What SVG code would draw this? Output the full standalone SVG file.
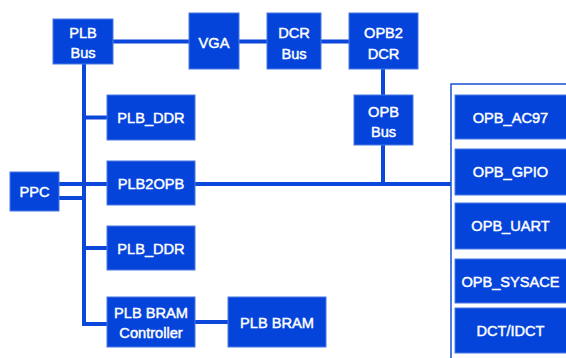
<svg xmlns="http://www.w3.org/2000/svg" width="566" height="358" viewBox="0 0 566 358">
<style>
.box{fill:#0444db;stroke:#4a78e2;stroke-width:1}
.t{fill:#fff;stroke:#fff;stroke-width:0.45;font-family:"Liberation Sans",Arial,sans-serif;font-size:14.6px;text-anchor:middle}
.c{fill:none;stroke:#0a47da;stroke-width:4}
</style>
<rect width="566" height="358" fill="#fff"/>
<g id="connectors">
<path class="c" d="M113,41.5 H189 M239,41.5 H267 M321,41.5 H349 M383,69 V95 M383,145 V184 M195,184 H451"/>
<path class="c" d="M84,64 V324 H107 M84,117.5 H107 M59,184 H107 M59,198 H84 M84,248 H107 M195,322 H228"/>
</g>
<g id="opb-container"><rect x="451" y="84" width="130" height="290" fill="none" stroke="#1a50d6" stroke-width="1.5"/></g>
<g id="plb-bus"><rect class="box" x="53" y="19" width="60" height="45"/><text class="t" x="83" y="38">PLB</text><text class="t" x="83" y="58">Bus</text></g>
<g id="vga"><rect class="box" x="189" y="13" width="50" height="56"/><text class="t" x="214" y="48">VGA</text></g>
<g id="dcr-bus"><rect class="box" x="267" y="13" width="54" height="56"/><text class="t" x="294" y="38">DCR</text><text class="t" x="294" y="59">Bus</text></g>
<g id="opb2dcr"><rect class="box" x="349" y="13" width="69" height="56"/><text class="t" x="383.5" y="38">OPB2</text><text class="t" x="383.5" y="59">DCR</text></g>
<g id="opb-bus"><rect class="box" x="354" y="95" width="59" height="50"/><text class="t" x="383.5" y="117">OPB</text><text class="t" x="383.5" y="137">Bus</text></g>
<g id="plb-ddr-1"><rect class="box" x="107" y="95" width="88" height="45"/><text class="t" x="151" y="123">PLB_DDR</text></g>
<g id="plb2opb"><rect class="box" x="107" y="161" width="88" height="44"/><text class="t" x="151" y="189">PLB2OPB</text></g>
<g id="ppc"><rect class="box" x="10" y="172" width="49" height="39"/><text class="t" x="34.5" y="197">PPC</text></g>
<g id="plb-ddr-2"><rect class="box" x="107" y="226" width="88" height="44"/><text class="t" x="151" y="253.5">PLB_DDR</text></g>
<g id="plb-bram-ctrl"><rect class="box" x="107" y="297" width="88" height="50"/><text class="t" x="151" y="318">PLB BRAM</text><text class="t" x="151" y="338">Controller</text></g>
<g id="plb-bram"><rect class="box" x="228" y="297" width="98" height="50"/><text class="t" x="277" y="327.5">PLB BRAM</text></g>
<g id="opb-ac97"><rect class="box" x="455" y="95" width="115" height="44"/><text class="t" x="510.5" y="123">OPB_AC97</text></g>
<g id="opb-gpio"><rect class="box" x="455" y="149" width="115" height="46"/><text class="t" x="510.5" y="177">OPB_GPIO</text></g>
<g id="opb-uart"><rect class="box" x="455" y="203" width="115" height="46"/><text class="t" x="510.5" y="231">OPB_UART</text></g>
<g id="opb-sysace"><rect class="box" x="455" y="259" width="115" height="44"/><text class="t" x="510.5" y="286.5">OPB_SYSACE</text></g>
<g id="dct-idct"><rect class="box" x="455" y="308" width="115" height="45"/><text class="t" x="510.5" y="336">DCT/IDCT</text></g>
</svg>
